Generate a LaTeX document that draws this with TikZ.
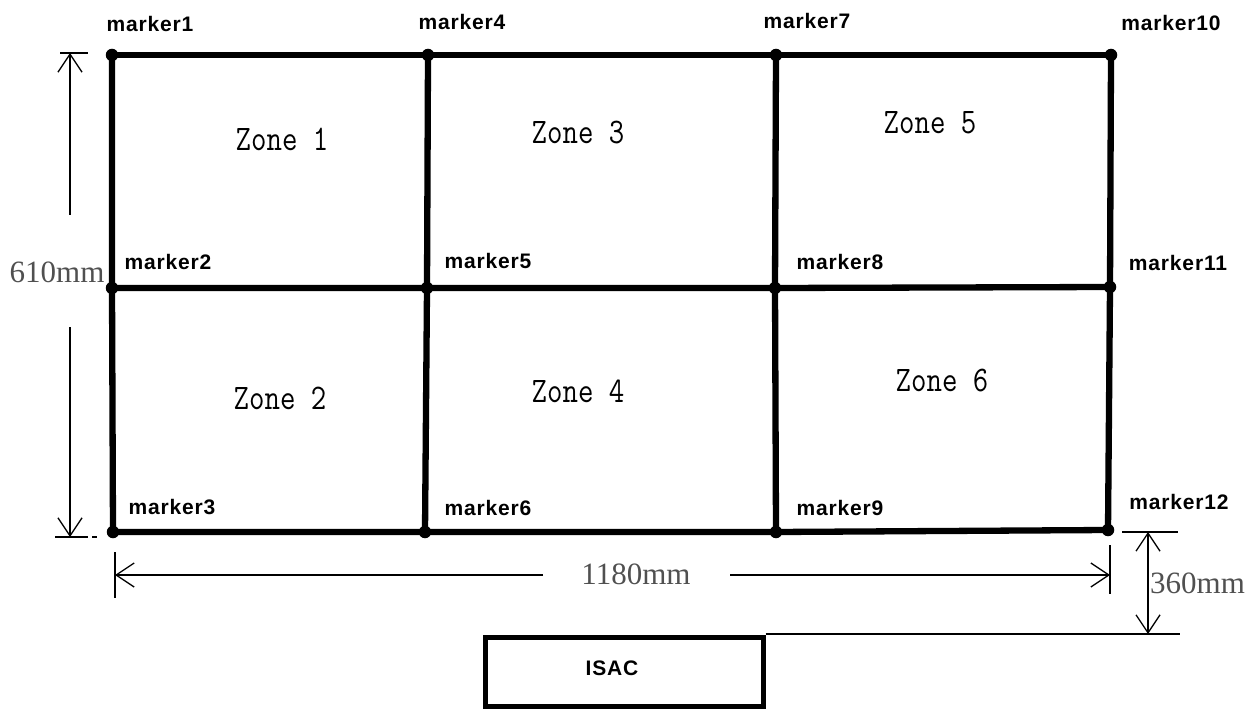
\documentclass[tikz,border=0pt]{standalone}
\usepackage{fontspec}
\setmainfont{Liberation Serif}
\newfontfamily\mkfont{Liberation Sans}[LetterSpace=4]
\usetikzlibrary{arrows.meta}
\definecolor{dimgray}{RGB}{80,80,80}
\tikzset{
 gridline/.style={line width=6.3pt},
 dot/.style={circle,fill=black,inner sep=0pt,minimum size=12.5pt},
 mk/.style={font=\mkfont\bfseries\fontsize{21}{21}\selectfont, inner sep=0pt},
 zone/.style={font=\ttfamily\fontsize{30}{30}\selectfont, inner sep=0pt},
 dimtext/.style={font=\fontsize{31}{31}\selectfont, text=dimgray, inner sep=0pt},
 dimline/.style={line width=1.3pt},
 dimarrow/.style={dimline, -{Straight Barb[length=18pt,width=24pt]}},
 dimboth/.style={dimline, {Straight Barb[length=18pt,width=24pt]}-{Straight Barb[length=18pt,width=24pt]}},
}
\begin{document}
\begin{tikzpicture}[x=1pt,y=-1pt]
\useasboundingbox (0,0) rectangle (1255,711);
% grid junctions
\node[dot] (m1) at (112,55) {};
\node[dot] (m2) at (112,288) {};
\node[dot] (m3) at (113,532) {};
\node[dot] (m4) at (428,55) {};
\node[dot] (m5) at (427,288) {};
\node[dot] (m6) at (425,532) {};
\node[dot] (m7) at (776,55) {};
\node[dot] (m8) at (775,288) {};
\node[dot] (m9) at (776,532) {};
\node[dot] (m10) at (1111,55) {};
\node[dot] (m11) at (1110,287) {};
\node[dot] (m12) at (1108,530) {};
% grid lines
\draw[gridline] (m1.center) -- (m4.center) -- (m7.center) -- (m10.center);
\draw[gridline] (m2.center) -- (m5.center) -- (m8.center) -- (m11.center);
\draw[gridline] (m3.center) -- (m6.center) -- (m9.center) -- (m12.center);
\draw[gridline] (m1.center) -- (m2.center) -- (m3.center);
\draw[gridline] (m4.center) -- (m5.center) -- (m6.center);
\draw[gridline] (m7.center) -- (m8.center) -- (m9.center);
\draw[gridline] (m10.center) -- (m11.center) -- (m12.center);
% marker labels
\node[mk] (l1) at (150,24) {marker1};
\node[mk] (l4) at (462,22) {marker4};
\node[mk] (l7) at (807,21) {marker7};
\node[mk] (l10) at (1171,23) {marker10};
\node[mk] (l2) at (168,262) {marker2};
\node[mk] (l5) at (488,261) {marker5};
\node[mk] (l8) at (840,262) {marker8};
\node[mk] (l11) at (1178,263) {marker11};
\node[mk] (l3) at (172,507) {marker3};
\node[mk] (l6) at (488,508) {marker6};
\node[mk] (l9) at (840,508) {marker9};
\node[mk] (l12) at (1179,502) {marker12};
% zones
\node[zone] (z1) at (282,139) {\scalebox{1}[1.2]{Zone 1}};
\node[zone] (z3) at (578,133) {\scalebox{1}[1.2]{Zone 3}};
\node[zone] (z5) at (930,123) {\scalebox{1}[1.2]{Zone 5}};
\node[zone] (z2) at (280,398) {\scalebox{1}[1.2]{Zone 2}};
\node[zone] (z4) at (578,391) {\scalebox{1}[1.2]{Zone 4}};
\node[zone] (z6) at (942,381) {\scalebox{1}[1.2]{Zone 6}};
% 610mm dimension
\coordinate (a1) at (60,53); \coordinate (a2) at (88,53);
\coordinate (a3) at (55,537); \coordinate (a4) at (88,537);
\coordinate (a5) at (92,537); \coordinate (a6) at (97,537);
\coordinate (at) at (70,53); \coordinate (ab) at (70,537);
\coordinate (au) at (70,215); \coordinate (ad) at (70,327);
\draw[dimline] (a1) -- (a2);
\draw[dimline] (a3) -- (a4);
\draw[dimline] (a5) -- (a6);
\draw[dimarrow] (au) -- (at);
\draw[dimarrow] (ad) -- (ab);
\node[dimtext] (t610) at (57,272) {610mm};
% 1180mm dimension
\coordinate (b1) at (115,552); \coordinate (b2) at (115,598);
\coordinate (b3) at (1110,545); \coordinate (b4) at (1110,594);
\coordinate (bl) at (115,575); \coordinate (br) at (1110,575);
\coordinate (bm1) at (543,575); \coordinate (bm2) at (730,575);
\draw[dimline] (b1) -- (b2);
\draw[dimline] (b3) -- (b4);
\draw[dimarrow] (bm1) -- (bl);
\draw[dimarrow] (bm2) -- (br);
\node[dimtext] (t1180) at (636,574) {1180mm};
% ISAC box
\node[draw, line width=5pt, minimum width=278pt, minimum height=69pt, inner sep=0pt] (isac) at (624,671.5) {};
\node[font=\mkfont\bfseries\fontsize{21}{21}\selectfont, inner sep=0pt] (isactext) at (612,668) {ISAC};
% 360mm dimension
\coordinate (c1) at (1122,532); \coordinate (c2) at (1178,532);
\coordinate (c3) at (1180,634);
\coordinate (ct) at (1148,532); \coordinate (cb) at (1148,634);
\draw[dimline] (c1) -- (c2);
\draw[dimline] (c3 -| isac.north east) -- (c3);
\draw[dimboth] (ct) -- (cb);
\node[dimtext, anchor=west] (t360) at (1150,583) {360mm};
\end{tikzpicture}
\end{document}
